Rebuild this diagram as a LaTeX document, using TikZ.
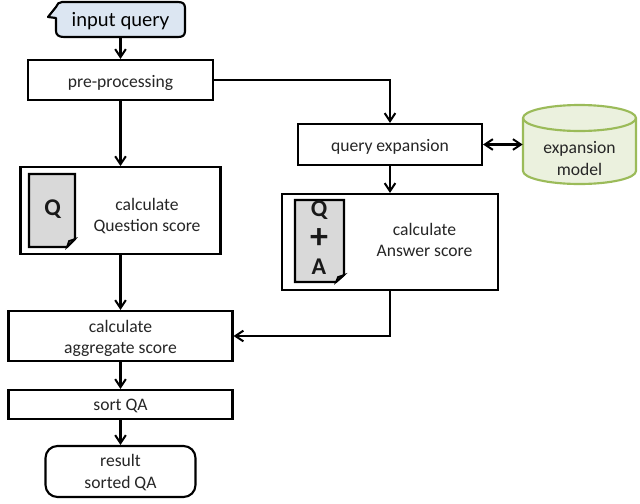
\documentclass[tikz,border=0pt]{standalone}
\usepackage{fontspec}
\setmainfont{Carlito}
\newfontfamily\comicfont{Lato}
\usetikzlibrary{arrows.meta}
\definecolor{callfill}{HTML}{DCE6F2}
\definecolor{docfill}{HTML}{D9D9D9}
\definecolor{cylfill}{HTML}{EBF1DE}
\definecolor{cylline}{HTML}{9BBB59}
\tikzset{
  bx/.style={draw=black,line width=1.6pt,fill=white,inner sep=0pt},
  flow/.style={draw=black,line width=1.6pt,-{Straight Barb[length=6pt,width=8pt,line width=1.5pt]}},
  flowb/.style={draw=black,line width=1.6pt,{Straight Barb[length=6pt,width=8pt,line width=1.5pt]}-{Straight Barb[length=6pt,width=8pt,line width=1.5pt]}},
  docpage/.style={draw=black,line width=1.6pt,fill=docfill,line join=miter},
  docmark/.style={inner sep=0pt,font=\fontsize{18}{18}\selectfont\bfseries,text=black!90},
  lab/.style={inner sep=0pt,align=center,font=\fontsize{13.2}{16}\selectfont,text=black!85}
}
\begin{document}
\begin{tikzpicture}[x=0.75pt,y=-0.75pt]
\useasboundingbox (0,0) rectangle (640,504);
% boxes
\node[bx,minimum width=138.75pt,minimum height=30pt] (pre) at (120.5,80) {};
\node[bx,minimum width=150pt,minimum height=65pt] (qs) at (120.5,210.5) {};
\node[bx,minimum width=138pt,minimum height=30.75pt] (qe) at (390,144.5) {};
\node[bx,minimum width=162pt,minimum height=72pt] (as) at (390,242) {};
\node[bx,minimum width=168pt,minimum height=37.5pt] (agg) at (120.5,336) {};
\node[bx,minimum width=168pt,minimum height=21.75pt] (srt) at (120.5,404.5) {};
\node[bx,rounded corners=9pt,minimum width=112.5pt,minimum height=38.25pt] (res) at (120.5,471.5) {};
% labels
\node[lab] (prelab) at (120.5,82.5) {pre-processing};
\node[lab] (qelab) at (390,146.5) {query expansion};
\node[lab] (agglab) at (120.5,338.5) {calculate\\aggregate score};
\node[lab] (srtlab) at (120.5,405.5) {sort QA};
\node[lab] (reslab) at (120.5,472.5) {result\\sorted QA};
\node[lab] (qslab) at (147,216) {calculate\\Question score};
\node[lab] (aslab) at (424.5,240) {calculate\\Answer score};
% input callout
\path[draw=black,line width=1.6pt,fill=callfill,line join=round]
  (62,2) -- (178,2) .. controls (183,2) and (185,4) .. (185,8) -- (185,31) .. controls (185,35) and (183,37) .. (178,37)
  -- (64,37) .. controls (59,37) and (56,35) .. (56,31) -- (56,18) -- (48,17) -- (56,7) .. controls (57,4) and (59,2) .. (62,2) -- cycle;
\coordinate (inp) at (120.5,37);
\node[inner sep=0pt,font=\comicfont\fontsize{14.5}{16}\selectfont] (inplab) at (120.5,21) {input query};
% cylinder
\path[draw=cylline,line width=1.6pt,fill=cylfill]
  (523,118) arc[start angle=180,end angle=0,x radius=56.5,y radius=-13] -- (636,171) arc[start angle=0,end angle=-180,x radius=56.5,y radius=-13] -- cycle;
\path[draw=cylline,line width=1.6pt] (523,118) arc[start angle=180,end angle=360,x radius=56.5,y radius=-13];
\node[inner sep=0pt,minimum width=84.75pt,minimum height=59.25pt] (cyl) at (579.5,144.5) {};
\node[lab] (cyllab) at (579.5,158.5) {expansion\\model};
% documents
\path[docpage] (29,174) -- (75,174) -- (75,239) -- (67,247) -- (29,247) -- cycle;
\path[draw=black,line width=1.2pt,fill=docfill!40!black] (75,239) -- (69,241) -- (67,247) -- cycle;
\node[docmark] (qm) at (52.5,209) {Q};
\path[docpage] (295,200) -- (344,200) -- (344,275) -- (336,282) -- (295,282) -- cycle;
\path[draw=black,line width=1.2pt,fill=docfill!40!black] (344,275) -- (338,277) -- (336,282) -- cycle;
\node[docmark] (am1) at (319,210) {Q};
\node[docmark,font=\fontsize{27}{27}\selectfont\bfseries] (am2) at (319,239) {+};
\node[docmark] (am3) at (319,267) {A};
% connectors
\draw[flow] (inp) -- (pre.north);
\draw[flow] (pre.south) -- (qs.north);
\draw[flow] (pre.east) -| (qe.north);
\draw[flow] (qe.south) -- (as.north);
\draw[flowb] (qe.east) -- (cyl.west);
\draw[flow] (qs.south) -- (agg.north);
\draw[flow] (as.south) |- (agg.east);
\draw[flow] (agg.south) -- (srt.north);
\draw[flow] (srt.south) -- (res.north);
\end{tikzpicture}
\end{document}
